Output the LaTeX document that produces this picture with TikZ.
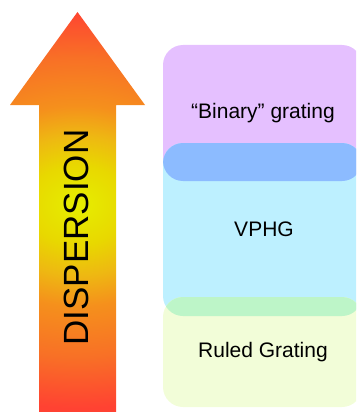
\documentclass[tikz,border=0pt]{standalone}
\usepackage{fontspec}
\setmainfont{Liberation Sans}
\definecolor{cyel}{HTML}{E6EE00}
\definecolor{cyel2}{HTML}{E8D800}
\definecolor{cyel3}{HTML}{EEB812}
\definecolor{corange}{HTML}{F5901C}
\definecolor{corange2}{HTML}{F87026}
\definecolor{cred}{HTML}{FF4232}
\definecolor{binfill}{HTML}{E5C0FF}
\definecolor{vphgfill}{HTML}{BDF0FF}
\definecolor{ruledfill}{HTML}{F2FDD8}
\definecolor{ovblue}{HTML}{8CBBFF}
\definecolor{ovgreen}{HTML}{BDF5C8}
\pgfdeclareradialshading{dispshade}{\pgfpoint{0bp}{1bp}}{color(0bp)=(cyel); color(5bp)=(cyel2); color(8.75bp)=(cyel3); color(12.5bp)=(corange); color(18.75bp)=(corange2); color(25bp)=(cred); color(50bp)=(cred)}
\tikzset{
  gbox/.style={rounded corners=20pt},
  lbl/.style={font=\fontsize{21}{25}\selectfont, text=black},
}
\begin{document}
\begin{tikzpicture}[x=1pt,y=-1pt]
\useasboundingbox (0,0) rectangle (356,412);
\clip (0,0) rectangle (356,412);
% arrow
\begin{scope}
\clip (39,412) -- (39,105) -- (10,105) -- (77.5,12) -- (145,105) -- (116,105) -- (116,412) -- cycle;
\path[shading=dispshade] (-172.5,12) rectangle (327.5,412);
\end{scope}
\node[rotate=90, font=\fontsize{35}{42}\selectfont] (disp) at (76.5,237.5) {DISPERSION};
% boxes
\fill[binfill, gbox] (163,45) rectangle (362,181);
\fill[vphgfill, gbox] (163,143) rectangle (362,316);
\fill[ruledfill, gbox] (163,297) rectangle (362,407);
\begin{scope}
\clip[gbox] (163,45) rectangle (362,181);
\fill[ovblue, gbox] (163,143) rectangle (362,316);
\end{scope}
\begin{scope}
\clip[gbox] (163,143) rectangle (362,316);
\fill[ovgreen, gbox] (163,297) rectangle (362,407);
\end{scope}
\node[lbl] (bin) at (263,113) {“Binary” grating};
\node[lbl] (vphg) at (264,229) {VPHG};
\node[lbl] (ruled) at (263,352) {Ruled Grating};
\end{tikzpicture}
\end{document}
